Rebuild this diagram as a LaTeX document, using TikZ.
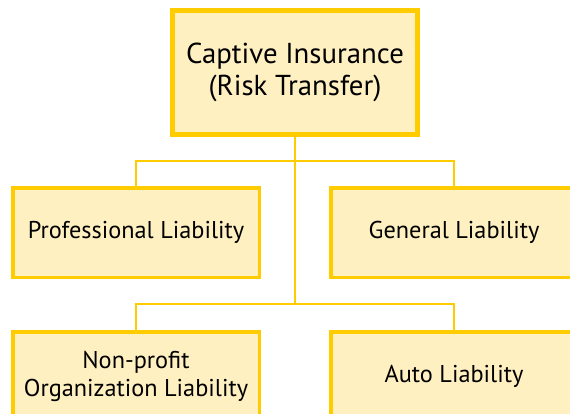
\documentclass[tikz,border=0pt]{standalone}
\usepackage{fontspec}
\setmainfont{PT Sans}
\definecolor{boxfill}{RGB}{255,240,193}
\definecolor{boxline}{RGB}{255,204,0}
\begin{document}
\begin{tikzpicture}[x=1pt,y=-1pt,
  topbox/.style={draw=boxline,fill=boxfill,line width=5pt,minimum width=245pt,minimum height=124pt,align=center,inner sep=0pt,font=\fontsize{28.8}{32}\selectfont},
  childbox/.style={draw=boxline,fill=boxfill,line width=3.5pt,minimum width=246.5pt,minimum height=89.5pt,align=center,inner sep=0pt,font=\fontsize{24.3}{28}\selectfont},
  conn/.style={draw=boxline,line width=2pt}]
\useasboundingbox (0,0) rectangle (570,413);
\clip (0,0) rectangle (570,413);
\node[topbox] (top) at (295,72.5) {Captive Insurance\\(Risk Transfer)};
\node[childbox] (pro) at (136,232.5) {Professional Liability};
\node[childbox] (gen) at (454,232.5) {General Liability};
\node[childbox] (npo) at (136,376.5) {Non-profit\\Organization Liability};
\node[childbox] (auto) at (454,376.5) {Auto Liability};
\coordinate (j1) at (295,161);
\coordinate (j2) at (295,304);
\draw[conn] (top.south) -- (j2);
\draw[conn] (j1) -| (pro.north);
\draw[conn] (j1) -| (gen.north);
\draw[conn] (j2) -| (npo.north);
\draw[conn] (j2) -| (auto.north);
\end{tikzpicture}
\end{document}
